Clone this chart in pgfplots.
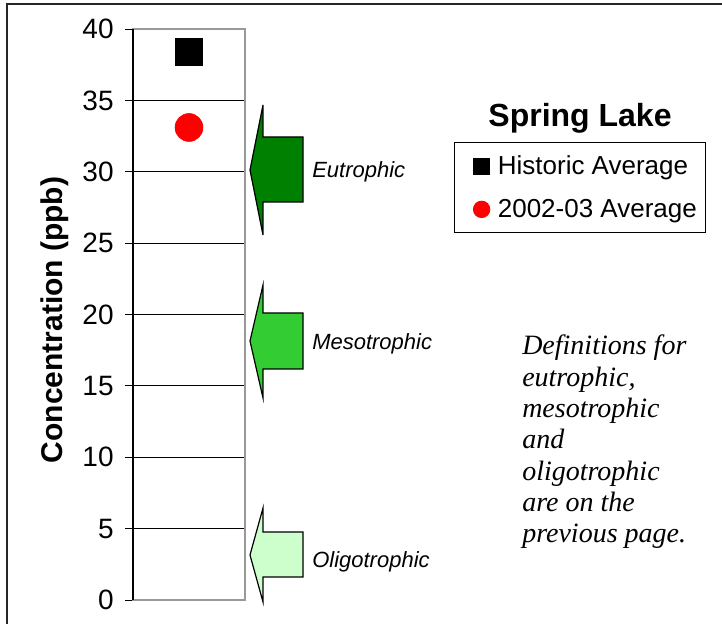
\documentclass[border=0pt]{standalone}
\usepackage{pgfplots}
\pgfplotsset{compat=1.18}
\usetikzlibrary{calc}
\usepackage{fontspec}
\setmainfont{Liberation Sans}
\newfontfamily\serifit{Liberation Serif}

\definecolor{eutro}{HTML}{008000}
\definecolor{meso}{HTML}{33CC33}
\definecolor{oligo}{HTML}{CCFFCC}

% trophic-state arrow: fill, tip y, head top, head bottom, shaft top, shaft bottom
\newcommand\trophicarrow[6]{%
  \draw[black, line width=0.9pt, fill=#1, line join=miter]
    (263,#3) -- (250,#2) -- (263,#4) -- (263,#6) -- (303,#6) -- (303,#5) -- (263,#5) -- cycle;}

\begin{document}
\begin{tikzpicture}[x=0.75pt,y=0.75pt]
\begin{axis}[
  name=ax,
  scale only axis, width=84pt, height=428.25pt,
  xmin=0, xmax=2, ymin=0, ymax=40,
  xtick=\empty, ytick={0,5,...,40},
  ymajorgrids, grid style={black, line width=0.6pt},
  axis line style={gray!80, line width=1pt},
  tick style={black, line width=0.7pt},
  tick align=outside, major tick length=6pt, ytick pos=left,
  yticklabel style={font=\fontsize{21}{25}\selectfont, xshift=-5pt},
  /pgf/number format/assume math mode=true,
  clip=false,
  legend cell align=left,
  legend image code/.code={\path (0cm,0cm); \draw[#1] plot coordinates {(0.54cm,0cm)};},
  legend style={at={(axis description cs:2.866,0.802)}, anchor=north west,
    draw=black, line width=0.6pt, font=\fontsize{19.5}{23}\selectfont,
    inner xsep=4.75pt, inner ysep=8pt, row sep=13pt,
    /tikz/every odd column/.append style={column sep=4pt}},
]
\addplot[only marks, mark=square*, mark size=10.1pt, black, forget plot]
  coordinates {(1,38.4)};
\addplot[only marks, mark=*, mark size=10.5pt, red, forget plot]
  coordinates {(1,33.1)};
\addlegendimage{only marks, mark=square*, mark size=6pt, black}
\addlegendentry{Historic Average}
\addlegendimage{only marks, mark=*, mark size=6.2pt, red}
\addlegendentry{2002-03 Average}
\draw[black, line width=1pt] (rel axis cs:0,0) -- (rel axis cs:0,1);
\end{axis}

% page frame and annotations, measured from the top-left corner of the page
\begin{scope}[shift={($(ax.south west)+(-133,-24)$)}]
\pgfresetboundingbox
\useasboundingbox (0,0) rectangle (722,624);
\begin{scope}[shift={(0,624)}, yscale=-1]
  \draw[line width=1.6pt, black!85] (7,650) -- (7,4) -- (760,4);
  \trophicarrow{eutro}{170}{105}{235}{137}{202}
  \trophicarrow{meso}{341}{285}{398}{313}{369}
  \trophicarrow{oligo}{555}{508}{602}{532}{577}
  \begin{scope}[every node/.style={font=\itshape\fontsize{16.5}{20}\selectfont, anchor=base west, inner sep=0pt}]
    \node at (312,178) {Eutrophic};
    \node at (312,350) {Mesotrophic};
    \node at (312,568) {Oligotrophic};
  \end{scope}
  \node[rotate=90, anchor=base, font=\bfseries\fontsize{22.5}{27}\selectfont, inner sep=0pt]
    at (63,320) {Concentration (ppb)};
  \node[anchor=base, font=\bfseries\fontsize{24}{28}\selectfont, inner sep=0pt]
    at (580,127) {Spring Lake};
  % base anchor of a multi-line node sits on its last line
  \node[anchor=base west, align=left, inner sep=0pt,
        font=\serifit\itshape\fontsize{21}{23.5}\selectfont] at (522,543)
    {Definitions for\\ eutrophic,\\ mesotrophic\\ and\\ oligotrophic\\ are on the\\ previous page.};
\end{scope}
\end{scope}
\end{tikzpicture}
\end{document}
